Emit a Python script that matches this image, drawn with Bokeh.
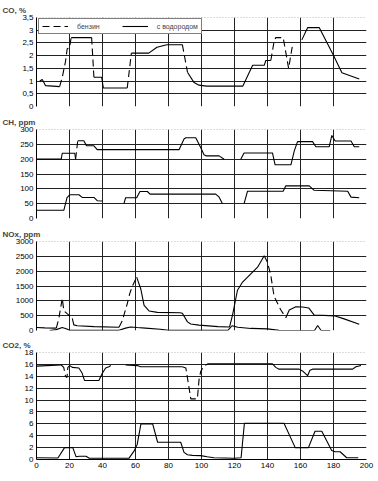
import math
from bokeh.plotting import figure
from bokeh.layouts import column
from bokeh.models import Range1d, FixedTicker, Span, Legend, LegendItem, CustomJSTickFormatter
from bokeh.embed import file_html
from bokeh.resources import INLINE

FONT = "Liberation Sans"
NAN = float("nan")
DASH = "7 4"

# ---------------- data (style per point: s=solid segment, d=dashed, g=gap) ----
co_x = [2, 3.5, 5.5, 10, 14, 15.6, 17.6, 18.6, 20, 21, 33.4, 34.8, 39.5, 40.5, 55,
        57.5, 68, 73, 79, 88.4, 91.5, 95.5, 98.5, 103, 125, 131, 138, 139, 142, 144,
        145, 149.5, 152.8, 155.2, 160.8, 164.3, 171.4, 179.5, 185.1, 195.6]
co_y = [1.0, 1.06, 0.82, 0.8, 0.78, 1.14, 1.78, 2.27, 2.3, 2.71, 2.71, 1.15, 1.15, 0.73, 0.73,
        2.1, 2.1, 2.33, 2.43, 2.43, 1.35, 0.94, 0.84, 0.8, 0.8, 1.62, 1.62, 1.81, 1.81, 2.56,
        2.71, 2.71, 1.5, 2.43, 2.62, 3.1, 3.1, 2.07, 1.33, 1.08]
co_st = "ssssd" "dddds" "dsssd" "ssssd" "sssss" "sssdd" "dddgs" "sssss"

ch_up_x = [0, 15, 15.6, 23.2, 23.7, 25, 28.7, 30.3, 34.8, 36.8, 86.4, 89.4, 90.5, 96.5, 99.5,
           101.5, 103, 110.7, 113.7, 123.8, 125.8, 143, 144.6, 154.2, 156.2, 158.2, 167.3,
           169.3, 177.4, 179, 181, 190.6, 192.6, 195.6]
ch_up_y = [200, 200, 220, 220, 200, 262, 262, 245, 245, 232, 232, 268, 272, 272, 239,
           215, 211, 211, 200, 200, 221, 221, 181, 181, 227, 259, 259, 242, 242, 280,
           261, 261, 242, 242]
ch_up_st = "ssssd" "sssss" "sssss" "sssgs" "sssss" "sssss" "ssss"

ch_lo_x = [0, 16.6, 18.5, 20.2, 25.7, 27.7, 34.8, 36.8, 39.9, 53, 54, 60.7, 62.7, 67.2, 68.8,
           108.6, 110.7, 112.7, 125.8, 127.9, 149.5, 151.1, 165.3, 168.3, 188.6, 190.6, 195.6]
ch_lo_y = [28, 28, 70, 80, 80, 71, 71, 60, 59, 50, 70, 70, 91, 91, 82,
           82, 72, 50, 50, 92, 92, 110, 110, 95, 92, 72, 70]
ch_lo_st = "sssss" "sssgs" "sssss" "ssgss" "sssss" "ss"

nox_up_x = [0, 5, 12, 13.5, 15.6, 16.6, 19.6, 21.7, 22.6, 24.7, 35, 50, 52, 55, 56.5,
            58.3, 60.7, 63.2, 65.2, 68.2, 73.3, 87, 88.4, 91.5, 93.5, 98.5, 110, 117, 118.8,
            121.8, 124.9, 134, 138, 140, 142, 144, 148.1, 151.1, 153.2, 157.2, 161.3, 165,
            168.3, 177.4, 181, 186, 195.6]
nox_up_y = [100, 90, 80, 400, 1080, 660, 520, 410, 190, 160, 130, 110, 330, 900, 1245,
            1520, 1800, 1400, 850, 660, 610, 600, 580, 290, 220, 180, 130, 120, 520,
            1357, 1633, 2133, 2523, 2300, 1857, 1150, 690, 433, 690, 800, 790, 760,
            520, 500, 490, 400, 210]
nox_up_st = "ssddd" "ddsss" "sdddd" "dssss" "sssss" "sssss" "ssddd" "ddsss" "sssss" "ss"

nox_lo_x = [8, 12, 15.6, 18, 20, 50, 54, 57, 61, 66, 75, 80, 116, 118.5, 122,
            130, 140, 147, 166, 168.5, 170.4, 172.5, 178]
nox_lo_y = [0, 30, 100, 60, 5, 5, 80, 120, 100, 80, 40, 5, 5, 160, 110,
            70, 55, 5, 0, 0, 170, 0, 0]
nox_lo_st = "s" * len(nox_lo_x)

co2_up_x = [0, 3, 15, 16.5, 17.6, 18.5, 19, 20.2, 21.7, 25.7, 27.7, 29.1, 37.8, 39.9, 41.9,
            43.9, 45, 54, 61.1, 63.1, 88.4, 90.5, 92.5, 93.5, 97.5, 98.5, 99.5, 101, 102.6,
            104, 143, 145, 147, 159.2, 161.7, 164.3, 165.7, 167.3, 191.6, 193.6, 196.7]
co2_up_y = [15.7, 15.75, 15.9, 15.5, 14.0, 13.8, 15.5, 15.8, 15.5, 15.4, 14.5, 13.3, 13.3, 14.5, 15.4,
            15.6, 15.8, 15.9, 15.8, 15.6, 15.6, 15.4, 12.0, 10.2, 10.2, 13.4, 14.8, 15.5, 15.9,
            16.1, 16.1, 15.5, 15.2, 15.2, 14.8, 14.1, 15.0, 15.2, 15.2, 15.6, 15.8]
co2_up_st = "ssddd" "ddsss" "sssss" "sgsss" "ddddd" "dddss" "sssss" "sssss" "s"

co2_lo_x = [0, 13, 17, 22, 24, 26, 30, 32, 56, 59.3, 61, 63.3, 70.4, 73.4, 87.4,
            89.4, 91.5, 94.5, 99.5, 103.5, 107.5, 120, 124, 126, 150, 156.8, 164.8,
            168.8, 172.9, 178.9, 181, 184, 188, 195]
co2_lo_y = [0.3, 0.25, 2.0, 2.0, 0.45, 0.55, 0.55, 0.2, 0.2, 1.5, 2.5, 6.0, 6.0, 2.9, 2.9,
            1.2, 0.8, 0.7, 0.65, 0.45, 0.3, 0.2, 0.3, 6.1, 6.1, 2.0, 2.0,
            4.75, 4.75, 1.5, 1.3, 1.3, 0.3, 0.3]
co2_lo_st = "s" * len(co2_lo_x)

x_ticks = list(range(0, 201, 20))
legend_labels = ["бензин", "с водородом"]


def split(xs, ys, st):
    res = {"s": ([], []), "d": ([], [])}
    last = {"s": None, "d": None}
    for i in range(len(xs) - 1):
        k = st[i] if i < len(st) else "s"
        if k not in res:
            continue
        bx, by = res[k]
        if last[k] != i:
            if bx:
                bx.append(NAN)
                by.append(NAN)
            bx.append(xs[i])
            by.append(ys[i])
        bx.append(xs[i + 1])
        by.append(ys[i + 1])
        last[k] = i + 1
    return res


def panel(title, ymax, ystep, height, bottom, xlabels=False, comma=False):
    p = figure(width=378, height=height, x_range=Range1d(0, 200), y_range=Range1d(0, ymax),
               output_backend="svg", toolbar_location=None,
               min_border_left=36, min_border_right=12, min_border_top=16,
               min_border_bottom=bottom, outline_line_color=None, title=title)
    p.title.align = "left"
    p.title.offset = -34
    p.title.standoff = 6
    p.title.text_font = FONT
    p.title.text_font_size = "8px"
    p.title.text_font_style = "bold"
    n = int(round(ymax / ystep))
    yt = [i * ystep for i in range(n + 1)]
    p.yaxis.ticker = FixedTicker(ticks=yt)
    if comma:
        p.yaxis.formatter = CustomJSTickFormatter(code="return String(tick).replace('.', ',');")
    p.yaxis.major_label_text_font = FONT
    p.yaxis.major_label_text_font_size = "8px"
    p.yaxis.major_label_text_color = "black"
    p.yaxis.axis_line_color = "black"
    p.yaxis.major_tick_out = 0
    p.yaxis.major_tick_in = 0
    p.yaxis.minor_tick_out = 0
    p.yaxis.minor_tick_in = 0
    p.yaxis.major_label_standoff = 3
    p.ygrid.ticker = FixedTicker(ticks=yt[:-1])
    p.ygrid.grid_line_color = "#222222"
    p.xgrid.ticker = FixedTicker(ticks=x_ticks[1:])
    p.xgrid.grid_line_color = "#222222"
    p.add_layout(Span(location=ymax, dimension="width", line_color="#777777",
                      line_dash="1 2", line_width=1))
    if xlabels:
        p.xaxis.ticker = FixedTicker(ticks=x_ticks)
        p.xaxis.major_label_text_font = FONT
        p.xaxis.major_label_text_font_size = "8px"
        p.xaxis.major_label_text_color = "black"
        p.xaxis.axis_line_color = "black"
        p.xaxis.major_tick_out = 0
        p.xaxis.major_tick_in = 0
        p.xaxis.minor_tick_out = 0
        p.xaxis.minor_tick_in = 0
        p.xaxis.major_label_standoff = 3
    else:
        p.xaxis.visible = False
    return p


def draw(p, xs, ys, st):
    r = split(xs, ys, st)
    rs = p.line(r["s"][0], r["s"][1], line_color="black", line_width=1.1)
    rd = p.line(r["d"][0], r["d"][1], line_color="black", line_width=1.1, line_dash=DASH)
    return rs, rd


p1 = panel("CO, %", 3.5, 0.5, 112, 6, comma=True)
s1, d1 = draw(p1, co_x, co_y, co_st)
legend = Legend(items=[LegendItem(label=legend_labels[0], renderers=[d1]),
                       LegendItem(label=legend_labels[1], renderers=[s1])],
                orientation="horizontal", location=(2, 72))
legend.label_text_font = FONT
legend.label_text_font_size = "7px"
legend.glyph_width = 26
legend.glyph_height = 8
legend.label_standoff = 9
legend.spacing = 22
legend.padding = 3
legend.margin = 0
legend.border_line_color = "black"
legend.border_line_width = 1
legend.background_fill_alpha = 1
p1.add_layout(legend)

p2 = panel("CH, ppm", 300, 50, 112, 6)
draw(p2, ch_up_x, ch_up_y, ch_up_st)
draw(p2, ch_lo_x, ch_lo_y, ch_lo_st)

p3 = panel("NOx, ppm", 3000, 500, 111, 5)
draw(p3, nox_up_x, nox_up_y, nox_up_st)
draw(p3, nox_lo_x, nox_lo_y, nox_lo_st)

p4 = panel("CO2, %", 18, 2, 146, 22, xlabels=True)
draw(p4, co2_up_x, co2_up_y, co2_up_st)
draw(p4, co2_lo_x, co2_lo_y, co2_lo_st)

layout = column(p1, p2, p3, p4, spacing=0)
open("out.html", "w").write(file_html(layout, INLINE))
